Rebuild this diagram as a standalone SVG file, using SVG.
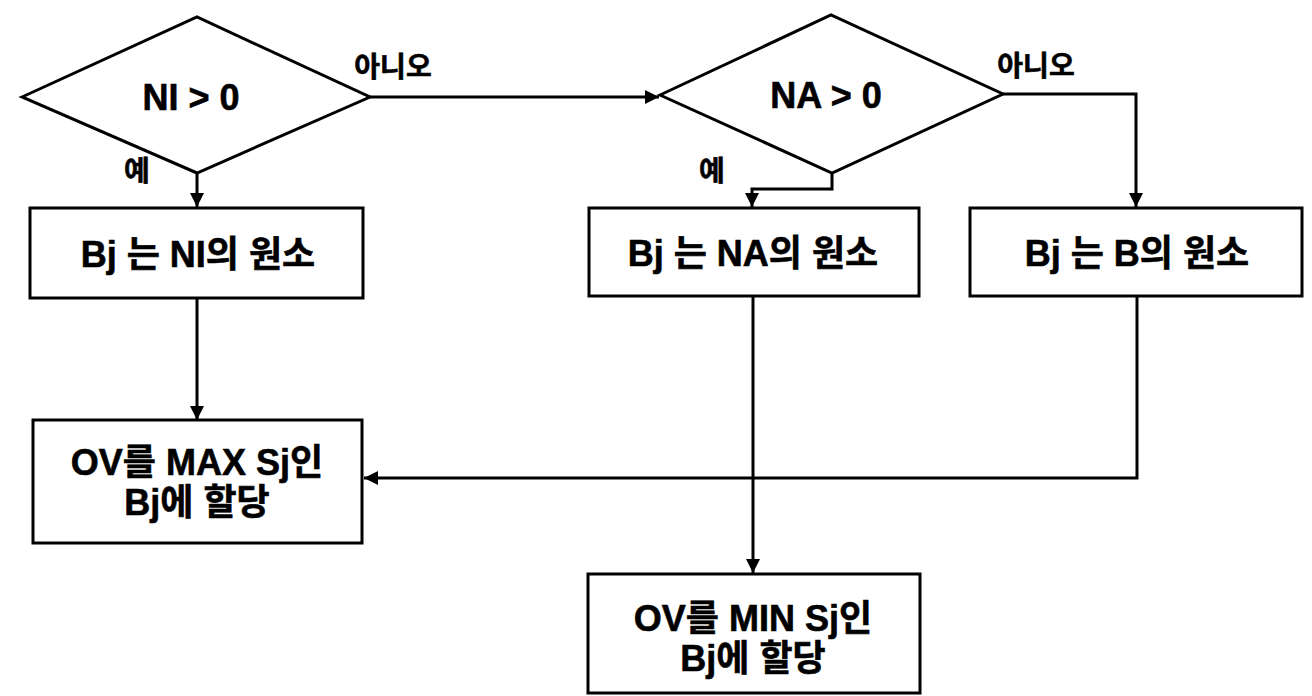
<svg xmlns="http://www.w3.org/2000/svg" width="1312" height="696" viewBox="0 0 1312 696">
<defs>
<style>
.shape{fill:#fff;stroke:#000;stroke-width:3}
.conn{fill:none;stroke:#000;stroke-width:3}
.t{font-family:"Liberation Sans","Noto Sans CJK KR",sans-serif;font-weight:bold;fill:#000;stroke:#000;stroke-width:0.6;text-anchor:middle;dominant-baseline:central}
.big{font-size:36px}
.lbl{font-size:28px}
</style>
<marker id="arr" viewBox="0 0 10 10" refX="10" refY="5" markerWidth="16" markerHeight="14" markerUnits="userSpaceOnUse" orient="auto">
<path d="M0,0 L10,5 L0,10 z" fill="#000"/>
</marker>
</defs>
<rect width="1312" height="696" fill="#fff"/>
<g id="connectors">
<path class="conn" d="M197,173 L197,207" marker-end="url(#arr)"/>
<path class="conn" d="M370,97 L659,97" marker-end="url(#arr)"/>
<path class="conn" d="M832,173 L832,189 L752,189 L752,207" marker-end="url(#arr)"/>
<path class="conn" d="M1003,94 L1136,94 L1136,207" marker-end="url(#arr)"/>
<path class="conn" d="M197,298 L197,420" marker-end="url(#arr)"/>
<path class="conn" d="M753,297 L753,573" marker-end="url(#arr)"/>
<path class="conn" d="M1137,295 L1137,478 L364,478" marker-end="url(#arr)"/>
<text class="t lbl" x="393" y="67">아니오</text>
<text class="t lbl" x="137" y="171">예</text>
<text class="t lbl" x="1036" y="66">아니오</text>
<text class="t lbl" x="712" y="171">예</text>
</g>
<g id="d1">
<polygon class="shape" points="22,97 197,17 370,97 197,173"/>
<text class="t big" x="191" y="97">NI &gt; 0</text>
</g>
<g id="d2">
<polygon class="shape" points="660,95 831,15 1003,94 832,173"/>
<text class="t big" x="826" y="95">NA &gt; 0</text>
</g>
<g id="bNI">
<rect class="shape" x="30" y="208" width="333" height="90"/>
<text class="t big" x="198" y="254">Bj 는 NI의 원소</text>
</g>
<g id="bNA">
<rect class="shape" x="589" y="208" width="330" height="88"/>
<text class="t big" x="753" y="253">Bj 는 NA의 원소</text>
</g>
<g id="bB">
<rect class="shape" x="970" y="208" width="332" height="88"/>
<text class="t big" x="1137" y="253">Bj 는 B의 원소</text>
</g>
<g id="bMAX">
<rect class="shape" x="33" y="420" width="329" height="123"/>
<text class="t big" x="197" y="462">OV를 MAX Sj인</text>
<text class="t big" x="197" y="502">Bj에 할당</text>
</g>
<g id="bMIN">
<rect class="shape" x="588" y="574" width="332" height="119"/>
<text class="t big" x="753" y="618">OV를 MIN Sj인</text>
<text class="t big" x="753" y="658">Bj에 할당</text>
</g>
</svg>
